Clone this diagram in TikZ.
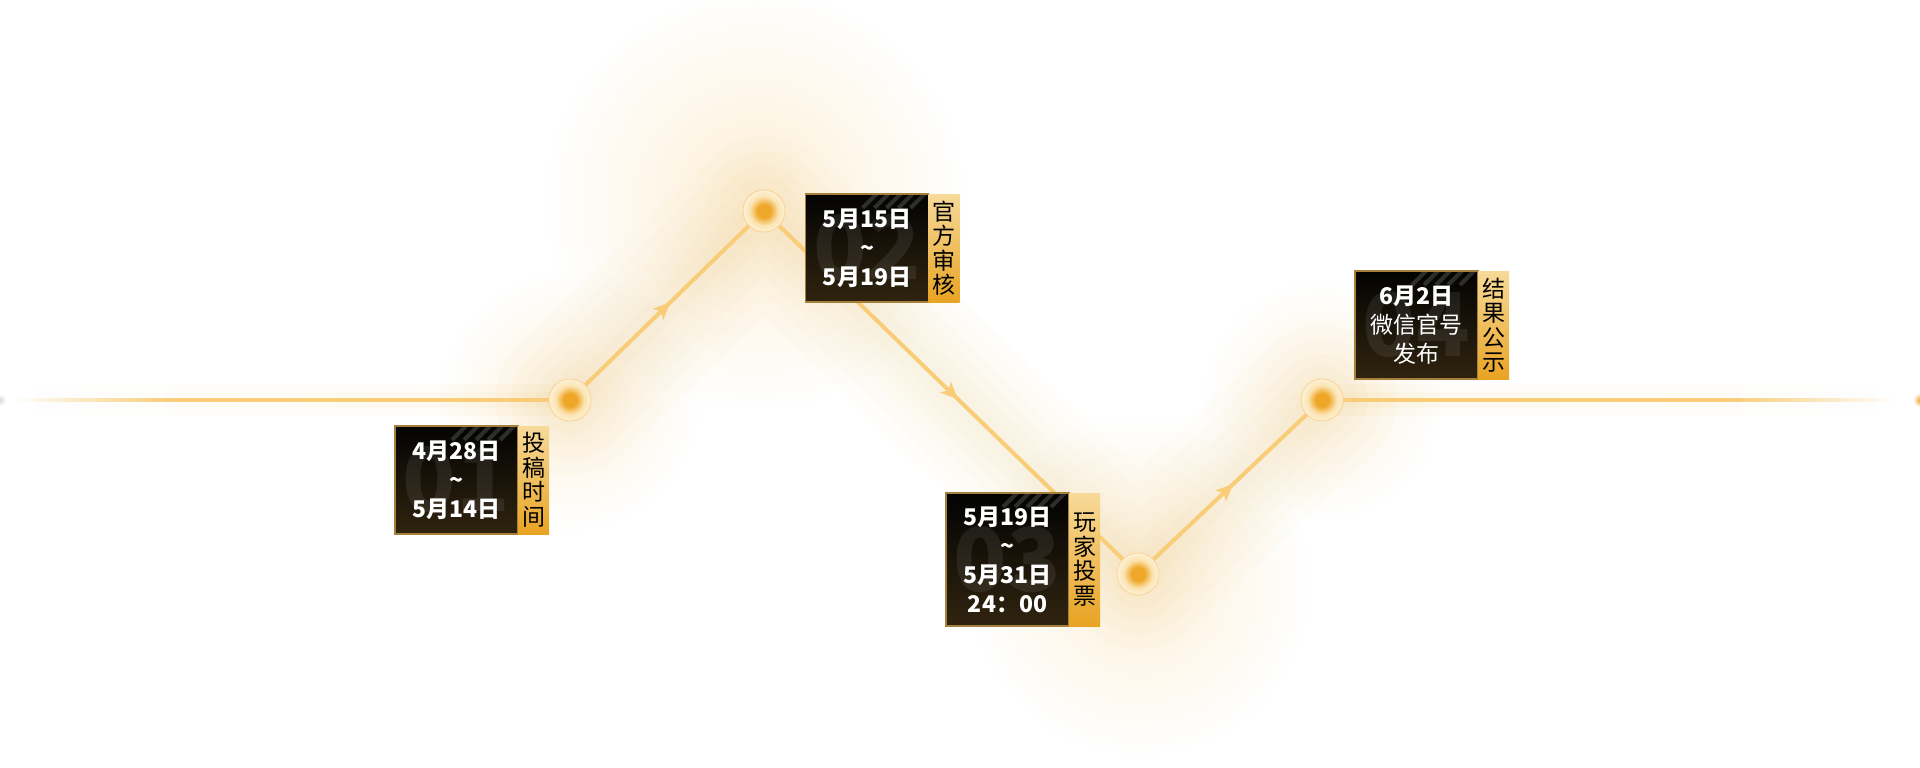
\documentclass[tikz,border=0pt]{standalone}
\usepackage{fontspec}
\setmainfont{Noto Sans CJK SC}
\usepackage{xcolor}
\usepackage{tikz}
\usetikzlibrary{
  positioning,
  calc,
  arrows.meta,
  fadings,
  decorations.markings
}

\definecolor{lineorange}{HTML}{F9CD78}
\definecolor{ringorange}{HTML}{F8D495}
\definecolor{dotcore}{HTML}{EFA72A}
\definecolor{dotpale}{HTML}{FBE3B0}
\definecolor{glow}{HTML}{F6B845}
\definecolor{boxtop}{HTML}{030303}
\definecolor{boxbottom}{HTML}{30240F}
\definecolor{boxedge}{HTML}{A5803C}
\definecolor{striptop}{HTML}{F7DA9A}
\definecolor{stripbottom}{HTML}{E8A322}

\pgfdeclareradialshading{dotshade}{\pgfpoint{0bp}{0bp}}{color(0bp)=(dotcore); color(8bp)=(dotcore); color(17bp)=(dotpale); color(25bp)=(dotpale!50!white); color(50bp)=(dotpale!50!white)}
\tikzfading[name=glowfade, inner color=transparent!0, outer color=transparent!100]
\tikzfading[name=fadeleft, left color=transparent!100, right color=transparent!0]
\tikzfading[name=faderight, left color=transparent!0, right color=transparent!100]

\newcommand{\boxstripes}[1]{%
  \begin{scope}
    \clip ($(#1.south west)+(1.2,-1.2)$) rectangle ($(#1.north east)+(-1.2,1.2)$);
    \foreach \i in {0,...,4}
      \draw[stripe] ($(#1.north east)+(-66+12*\i,14)$) -- ++(14,-14);
  \end{scope}}

\begin{document}
\begin{tikzpicture}[
      x=1pt, y=-1pt,
      line/.style={draw=lineorange, line width=4pt},
      midarrow/.style={postaction={decorate, decoration={markings, mark=at position 0.52 with {\arrow{Stealth[length=17pt, width=15pt, inset=4pt]}}}}},
      dot/.style={circle, minimum size=42pt, inner sep=0pt, draw=ringorange, line width=0.8pt, shade, shading=dotshade},
      datebox/.style={rectangle, draw=boxedge, line width=1.6pt, top color=boxtop, bottom color=boxbottom, minimum width=123pt, minimum height=108pt, inner sep=0pt, outer sep=0pt},
      tagbox/.style={rectangle, top color=striptop, bottom color=stripbottom, minimum width=31pt, minimum height=108pt, inner sep=0pt, outer sep=0pt, align=center, font=\fontsize{23}{24.5}\selectfont},
      datetext/.style={align=center, text=white, font=\fontsize{23}{29}\selectfont\bfseries},
      numtext/.style={text=white, text opacity=0.08, font=\fontsize{88}{88}\selectfont\bfseries},
      stripe/.style={draw=white, line width=4pt, opacity=0.16},
      glowband/.style={draw=glow, line cap=round, line join=round, opacity=0.022}
    ]
      \useasboundingbox (0,0) rectangle (1920,768);
      \fill[white] (0,0) rectangle (1920,768);

      % Points on the line
      \coordinate (p1) at (570,400);
      \coordinate (p2) at (764,211);
      \coordinate (p3) at (1138,574);
      \coordinate (p4) at (1322,400);
      \coordinate (lend) at (15,400);
      \coordinate (lstart) at (170,400);
      \coordinate (rstart) at (1730,400);
      \coordinate (rend) at (1895,400);

      % Glow
      \fill[glow, path fading=glowfade, fill opacity=0.22] (755,200) circle (210);
      \fill[glow, path fading=glowfade, fill opacity=0.20] (1140,585) circle (170);
      \fill[glow, path fading=glowfade, fill opacity=0.18] (p1) circle (130);
      \fill[glow, path fading=glowfade, fill opacity=0.16] (p4) circle (120);
      \draw[glowband, line width=150pt] (p1) -- (p2) -- (p3) -- (p4);
      \draw[glowband, line width=120pt] (p1) -- (p2) -- (p3) -- (p4);
      \draw[glowband, line width=92pt] (p1) -- (p2) -- (p3) -- (p4);
      \draw[glowband, line width=68pt] (p1) -- (p2) -- (p3) -- (p4);
      \draw[glowband, line width=46pt] (p1) -- (p2) -- (p3) -- (p4);
      \draw[glowband, line width=28pt] (p1) -- (p2) -- (p3) -- (p4);
      \fill[glow, path fading=fadeleft, fill opacity=0.05] ($(lend)+(0,-16)$) rectangle ($(p1)+(0,16)$);
      \fill[glow, path fading=fadeleft, fill opacity=0.05] ($(lend)+(0,-8)$) rectangle ($(p1)+(0,8)$);
      \fill[glow, path fading=faderight, fill opacity=0.05] ($(p4)+(0,-16)$) rectangle ($(rend)+(0,16)$);
      \fill[glow, path fading=faderight, fill opacity=0.05] ($(p4)+(0,-8)$) rectangle ($(rend)+(0,8)$);
      \fill[gray, path fading=glowfade, fill opacity=0.3] (0,400) circle (6);
      \fill[dotcore, path fading=glowfade] (1920,400) circle (7);

      % Dots
      \node[dot] (d1) at (p1) {};
      \node[dot] (d2) at (p2) {};
      \node[dot] (d3) at (p3) {};
      \node[dot] (d4) at (p4) {};

      % Line
      \fill[lineorange, path fading=fadeleft] ($(lend)+(0,-2)$) rectangle ($(lstart)+(0,2)$);
      \draw[line] (lstart) -- (d1);
      \draw[line, midarrow] (d1) -- (d2);
      \draw[line, midarrow] (d2) -- (d3);
      \draw[line, midarrow] (d3) -- (d4);
      \draw[line] (d4) -- (rstart);
      \fill[lineorange, path fading=faderight] ($(rstart)+(0,-2)$) rectangle ($(rend)+(0,2)$);

      % Boxes
      \node[datebox] (b1) at (456.5,480) {};
      \boxstripes{b1}
      \node[numtext] (n1) at (b1) {01};
      \node[datetext] (x1) at (b1) {4月28日\\\textasciitilde\\5月14日};
      \node[tagbox, right=0pt of b1] (t1) {投\\稿\\时\\间};

      \node[datebox] (b2) at (867,248) {};
      \boxstripes{b2}
      \node[numtext] (n2) at (b2) {02};
      \node[datetext] (x2) at (b2) {5月15日\\\textasciitilde\\5月19日};
      \node[tagbox, right=0pt of b2] (t2) {官\\方\\审\\核};

      \node[datebox, minimum height=133pt] (b3) at (1007.5,559.5) {};
      \boxstripes{b3}
      \node[numtext] (n3) at (b3) {03};
      \node[datetext] (x3) at (b3) {5月19日\\\textasciitilde\\5月31日\\24：00};
      \node[tagbox, minimum height=133pt, right=0pt of b3] (t3) {玩\\家\\投\\票};

      \node[datebox] (b4) at (1416.5,325) {};
      \boxstripes{b4}
      \node[numtext] (n4) at (b4) {04};
      \node[datetext] (x4) at (b4) {6月2日\\\mdseries 微信官号\\\mdseries 发布};
      \node[tagbox, right=0pt of b4] (t4) {结\\果\\公\\示};
    \end{tikzpicture}
\end{document}
